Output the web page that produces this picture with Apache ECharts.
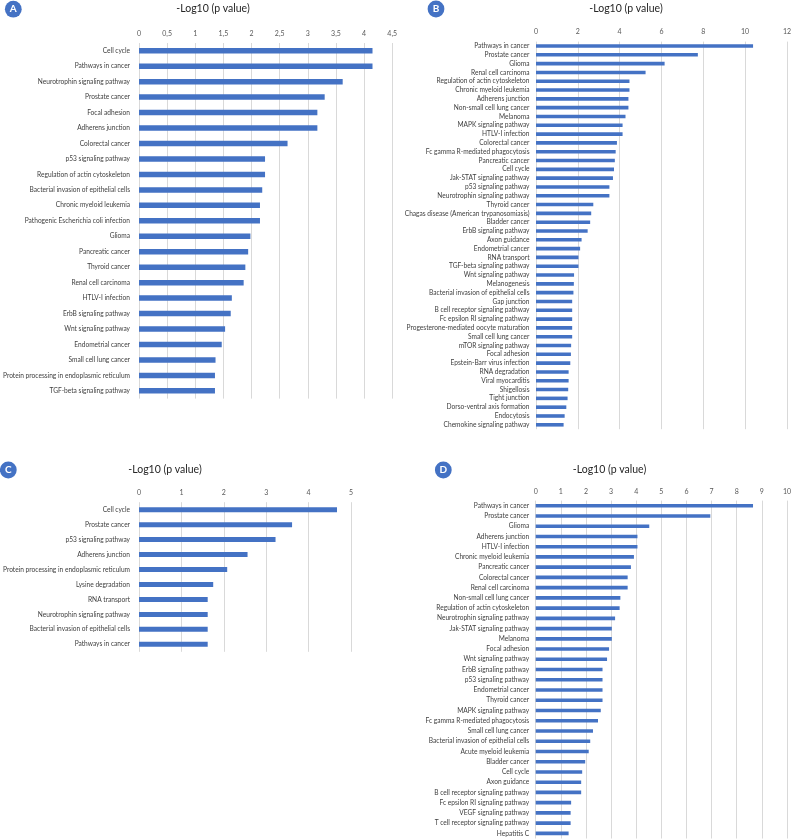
<!DOCTYPE html>
<html>
<head>
<meta charset="utf-8">
<script src="https://cdn.jsdelivr.net/npm/echarts@6/dist/echarts.min.js"></script>
<style>html,body{margin:0;padding:0;background:#fff;}#c{width:794px;height:839px;}</style>
</head>
<body>
<div id="c"></div>
<script>
const titleText = '-Log10 (p value)';

const catsA = ['Cell cycle','Pathways in cancer','Neurotrophin signaling pathway','Prostate cancer','Focal adhesion','Adherens junction','Colorectal cancer','p53 signaling pathway','Regulation of actin cytoskeleton','Bacterial invasion of epithelial cells','Chronic myeloid leukemia','Pathogenic Escherichia coli infection','Glioma','Pancreatic cancer','Thyroid cancer','Renal cell carcinoma','HTLV-I infection','ErbB signaling pathway','Wnt signaling pathway','Endometrial cancer','Small cell lung cancer','Protein processing in endoplasmic reticulum','TGF-beta signaling pathway'];
const valsA = [4.15,4.15,3.62,3.30,3.17,3.17,2.64,2.24,2.24,2.19,2.15,2.15,1.98,1.94,1.89,1.86,1.65,1.63,1.53,1.47,1.36,1.35,1.35];

const catsB = ['Pathways in cancer','Prostate cancer','Glioma','Renal cell carcinoma','Regulation of actin cytoskeleton','Chronic myeloid leukemia','Adherens junction','Non-small cell lung cancer','Melanoma','MAPK signaling pathway','HTLV-I infection','Colorectal cancer','Fc gamma R-mediated phagocytosis','Pancreatic cancer','Cell cycle','Jak-STAT signaling pathway','p53 signaling pathway','Neurotrophin signaling pathway','Thyroid cancer','Chagas disease (American trypanosomiasis)','Bladder cancer','ErbB signaling pathway','Axon guidance','Endometrial cancer','RNA transport','TGF-beta signaling pathway','Wnt signaling pathway','Melanogenesis','Bacterial invasion of epithelial cells','Gap junction','B cell receptor signaling pathway','Fc epsilon RI signaling pathway','Progesterone-mediated oocyte maturation','Small cell lung cancer','mTOR signaling pathway','Focal adhesion','Epstein-Barr virus infection','RNA degradation','Viral myocarditis','Shigellosis','Tight junction','Dorso-ventral axis formation','Endocytosis','Chemokine signaling pathway'];
const valsB = [10.38,7.74,6.15,5.24,4.47,4.47,4.42,4.42,4.28,4.14,4.14,3.87,3.81,3.77,3.73,3.68,3.51,3.51,2.74,2.64,2.59,2.47,2.18,2.11,2.03,2.03,1.82,1.81,1.79,1.73,1.73,1.73,1.73,1.73,1.68,1.67,1.64,1.56,1.56,1.54,1.51,1.45,1.37,1.32];

const catsC = ['Cell cycle','Prostate cancer','p53 signaling pathway','Adherens junction','Protein processing in endoplasmic reticulum','Lysine degradation','RNA transport','Neurotrophin signaling pathway','Bacterial invasion of epithelial cells','Pathways in cancer'];
const valsC = [4.67,3.61,3.22,2.56,2.08,1.75,1.62,1.62,1.62,1.62];

const catsD = ['Pathways in cancer','Prostate cancer','Glioma','Adherens junction','HTLV-I infection','Chronic myeloid leukemia','Pancreatic cancer','Colorectal cancer','Renal cell carcinoma','Non-small cell lung cancer','Regulation of actin cytoskeleton','Neurotrophin signaling pathway','Jak-STAT signaling pathway','Melanoma','Focal adhesion','Wnt signaling pathway','ErbB signaling pathway','p53 signaling pathway','Endometrial cancer','Thyroid cancer','MAPK signaling pathway','Fc gamma R-mediated phagocytosis','Small cell lung cancer','Bacterial invasion of epithelial cells','Acute myeloid leukemia','Bladder cancer','Cell cycle','Axon guidance','B cell receptor signaling pathway','Fc epsilon RI signaling pathway','VEGF signaling pathway','T cell receptor signaling pathway','Hepatitis C'];
const valsD = [8.65,6.95,4.52,4.05,4.05,3.91,3.79,3.66,3.66,3.37,3.34,3.16,3.03,3.03,2.92,2.84,2.66,2.66,2.66,2.66,2.59,2.48,2.28,2.17,2.11,1.97,1.85,1.81,1.81,1.41,1.39,1.39,1.31];

const axisMax = [4.5, 12, 5, 10];
const axisStep = [0.5, 2, 1, 1];

const FONT = 'Lato';
const BLUE = '#4472C4';
const panels = [
  {cats: catsA, vals: valsA, grid: {left: 133, top: 43, width: 259.2, height: 355.6}, bw: 5.5, lm: 9, xm: 6, letter: 'A', cx: 13.3, cy: 9.2, tx: 213, ty: 9},
  {cats: catsB, vals: valsB, grid: {left: 536, top: 41.6, width: 254.4, height: 387.6}, bw: 3.6, lm: 6.5, xm: 6, letter: 'B', cx: 436, cy: 9, tx: 626, ty: 9},
  {cats: catsC, vals: valsC, grid: {left: 134.3, top: 502.2, width: 216.7, height: 149.6}, bw: 5, lm: 9, xm: 6, letter: 'C', cx: 8.3, cy: 470, tx: 165, ty: 470},
  {cats: catsD, vals: valsD, grid: {left: 535.7, top: 500.6, width: 254.3, height: 337.9}, bw: 3.6, lm: 6.5, xm: 5, letter: 'D', cx: 443.3, cy: 470, tx: 609.5, ty: 469.5}
];

const grids = [], xAxes = [], yAxes = [], series = [], graphics = [];
panels.forEach((p, i) => {
  grids.push(Object.assign({containLabel: false}, p.grid));
  xAxes.push({
    type: 'value', gridIndex: i, position: 'top', min: 0, max: axisMax[i], interval: axisStep[i],
    axisLine: {show: false}, axisTick: {show: false},
    splitLine: {show: true, lineStyle: {color: '#d9d9d9', width: 1}},
    axisLabel: {fontFamily: FONT, fontSize: 7, color: '#595959', margin: p.xm,
      formatter: v => String(v).replace('.', ',')}
  });
  yAxes.push({
    type: 'category', gridIndex: i, data: p.cats, inverse: true,
    axisLine: {show: false}, axisTick: {show: false}, splitLine: {show: false},
    axisLabel: {fontFamily: FONT, fontSize: 6.6, color: '#404040', margin: p.lm, interval: 0}
  });
  series.push({
    type: 'bar', xAxisIndex: i, yAxisIndex: i, data: p.vals, barWidth: p.bw,
    itemStyle: {color: BLUE}, silent: true, animation: false
  });
  graphics.push({type: 'circle', shape: {cx: p.cx, cy: p.cy, r: 8.4}, style: {fill: BLUE}, silent: true});
  graphics.push({type: 'text', x: p.cx, y: p.cy, style: {text: p.letter, fill: '#fff', font: 'bold 10px ' + FONT, textAlign: 'center', textVerticalAlign: 'middle'}, silent: true});
  graphics.push({type: 'text', x: p.tx, y: p.ty, style: {text: titleText, fill: '#262626', font: '10.5px ' + FONT, textAlign: 'center', textVerticalAlign: 'middle'}, silent: true});
});

const chart = echarts.init(document.getElementById('c'), null, {renderer: 'canvas'});
chart.setOption({
  animation: false,
  grid: grids, xAxis: xAxes, yAxis: yAxes, series: series, graphic: graphics
});
</script>
</body>
</html>
